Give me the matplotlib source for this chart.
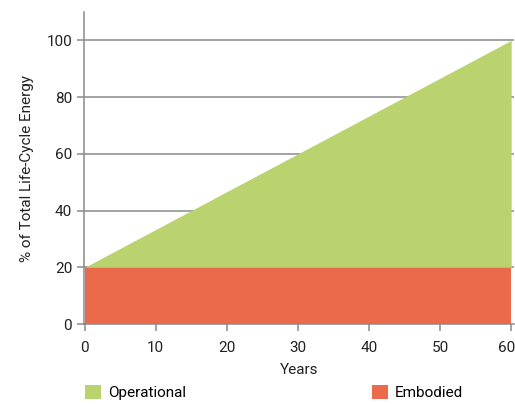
import matplotlib
matplotlib.use("Agg")
import matplotlib.pyplot as plt
from matplotlib.transforms import ScaledTranslation
import numpy as np

years = [0, 60]
embodied = [20, 20]
operational = [0, 80]
x_ticks = [0, 10, 20, 30, 40, 50, 60]
y_ticks = [0, 20, 40, 60, 80, 100]

green = "#BAD36E"
red = "#EB6A4B"
grid_c = "#8a8a8a"

plt.rcParams["font.family"] = ["Roboto", "DejaVu Sans"]

fig = plt.figure(figsize=(5.15, 4.04), dpi=100)
ax = fig.add_axes([84 / 515, 1 - 324 / 404, 430 / 515, 312 / 404])

emb = np.array(embodied)
op = np.array(operational)
ax.fill_between(years, 0, emb, color=red, lw=0, label="Embodied", zorder=3)
ax.fill_between(years, emb, emb + op, color=green, lw=0, label="Operational", zorder=3)

ax.set_xlim(-0.1, 60.4)
ax.set_ylim(0, 110)
ax.set_xticks(x_ticks)
ax.set_yticks(y_ticks)
for y in y_ticks[1:]:
    ax.axhline(y, color=grid_c, lw=1.1, zorder=1)

for s in ["top", "right"]:
    ax.spines[s].set_visible(False)
for s in ["left", "bottom"]:
    ax.spines[s].set_color(grid_c)
    ax.spines[s].set_linewidth(1.1)
    ax.spines[s].set_zorder(4)
ax.tick_params(axis="both", colors=grid_c, labelcolor="#222222", labelsize=11,
               length=5, width=1.1)
ax.tick_params(axis="x", pad=7)

# nudge the last x tick label so it stays inside the figure
last = ax.get_xticklabels()[-1]
last.set_transform(last.get_transform() + ScaledTranslation(-0.045, 0, fig.dpi_scale_trans))

ax.set_xlabel("Years", fontsize=11, color="#222222", labelpad=6)
ax.set_ylabel("% of Total Life-Cycle Energy", fontsize=11, color="#222222", labelpad=9)

h, l = ax.get_legend_handles_labels()
fig.legend([h[1], h[0]], [l[1], l[0]], loc="lower left",
           bbox_to_anchor=(71 / 515, -0.024), ncol=2, frameon=False,
           fontsize=11, handlelength=1.05, handleheight=1.05,
           handletextpad=0.45, columnspacing=12.2)

fig.savefig("out.png", dpi=100)
